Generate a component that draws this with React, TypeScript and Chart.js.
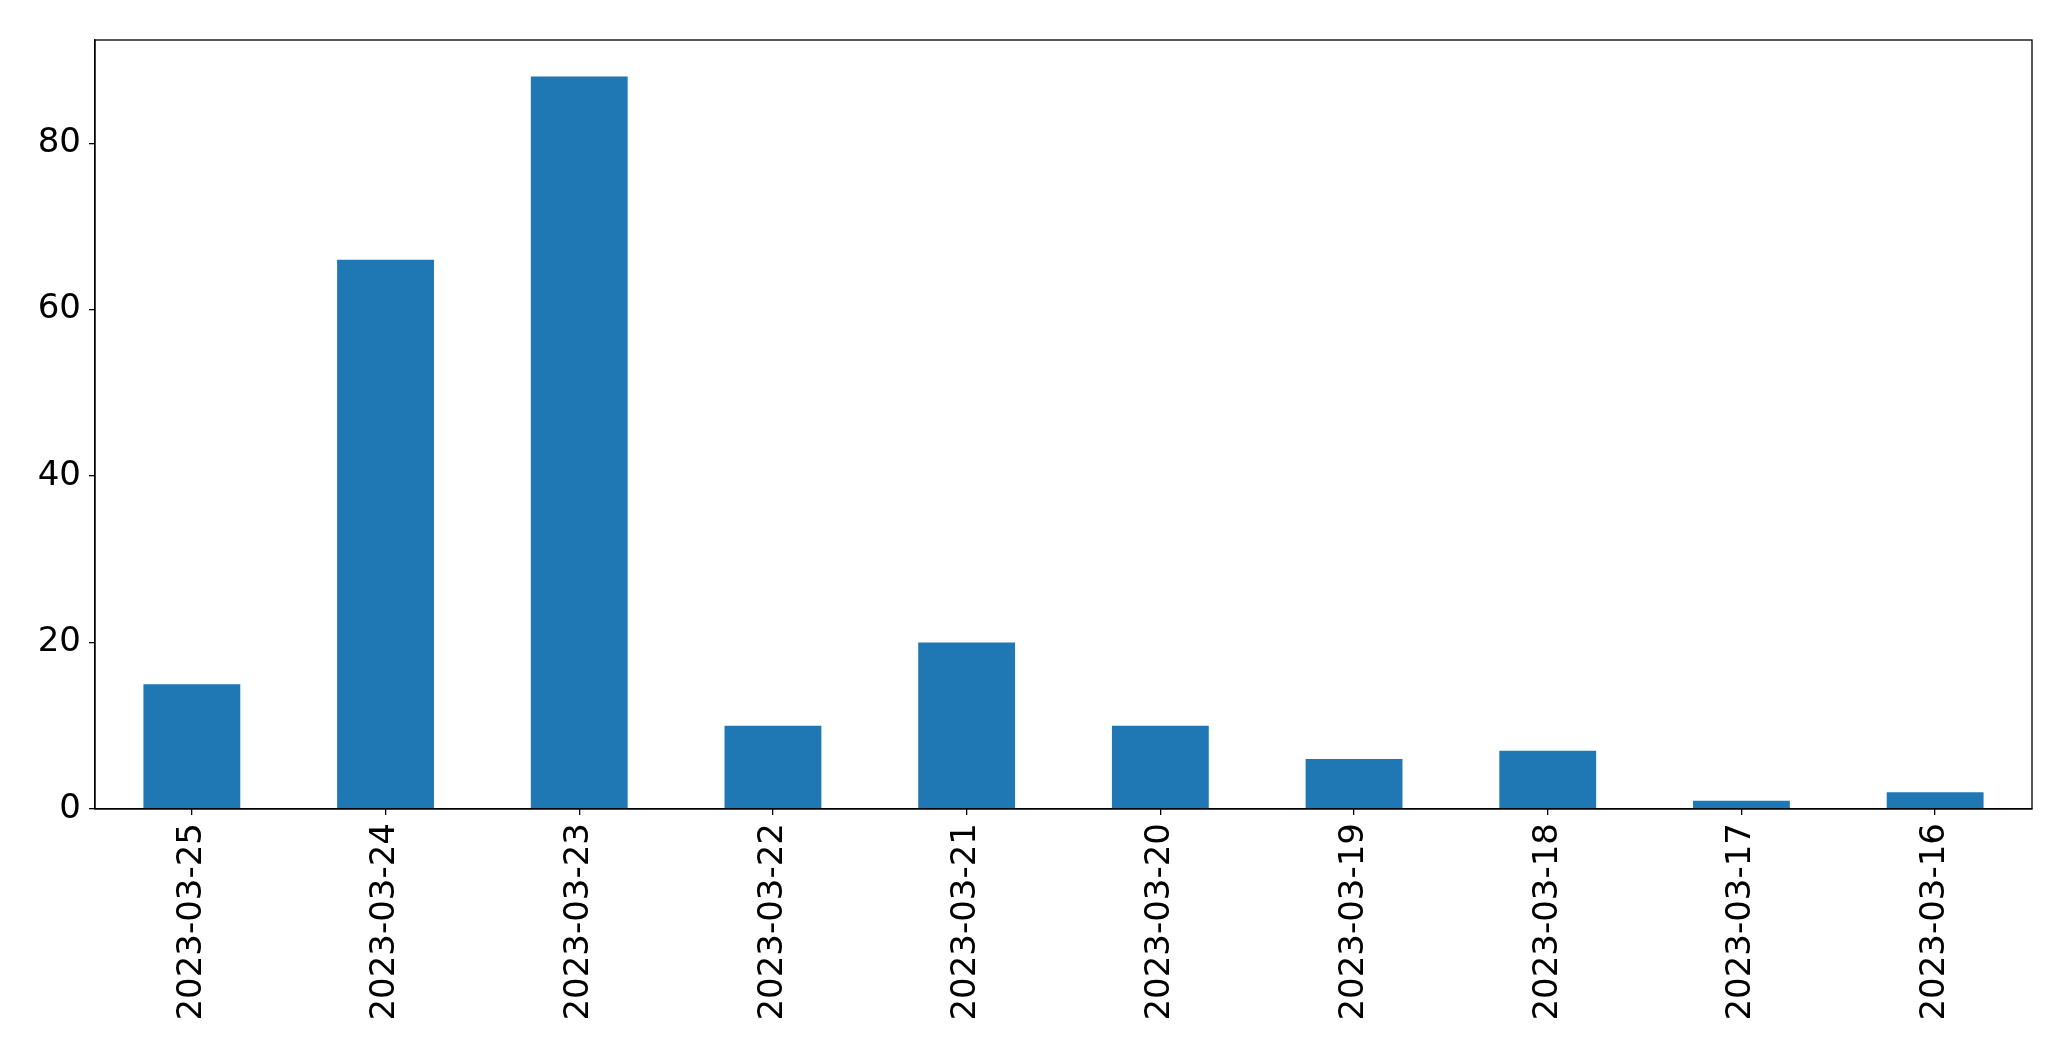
import React, { useEffect, useRef } from "react";
import { Chart, registerables } from "chart.js";

Chart.register(...registerables);

const categories = [
  "2023-03-25",
  "2023-03-24",
  "2023-03-23",
  "2023-03-22",
  "2023-03-21",
  "2023-03-20",
  "2023-03-19",
  "2023-03-18",
  "2023-03-17",
  "2023-03-16",
];
const values = [15, 66, 88, 10, 20, 10, 6, 7, 1, 2];
const yTicks = [0, 20, 40, 60, 80];

const W = 2071;
const H = 1061;

const frame = {
  id: "frame",
  afterDraw(chart: any) {
    const { ctx, chartArea } = chart;
    ctx.save();
    ctx.strokeStyle = "#000";
    ctx.lineWidth = 1.3;
    ctx.strokeRect(chartArea.left, chartArea.top, chartArea.right - chartArea.left, chartArea.bottom - chartArea.top);
    ctx.restore();
  },
};

export default function App() {
  const ref = useRef<HTMLCanvasElement>(null);
  useEffect(() => {
    if (!ref.current) return;
    const font = { family: "'DejaVu Sans', sans-serif", size: 34 };
    const chart = new Chart(ref.current, {
      type: "bar",
      data: {
        labels: categories,
        datasets: [
          {
            data: values,
            backgroundColor: "#1f77b4",
            categoryPercentage: 1,
            barPercentage: 0.5,
          },
        ],
      },
      options: {
        responsive: false,
        animation: false,
        layout: { padding: { top: 40, right: 39, left: 0, bottom: 0 } },
        plugins: { legend: { display: false }, tooltip: { enabled: false } },
        scales: {
          x: {
            grid: { offset: false, drawOnChartArea: false, drawTicks: true, tickLength: 6, color: "#000", lineWidth: 1.3 },
            border: { display: true, color: "#000", width: 1.3 },
            ticks: { font, color: "#000", maxRotation: 90, minRotation: 90, padding: 8, autoSkip: false },
            afterFit(scale: any) {
              scale.height = H - 809;
            },
          },
          y: {
            min: 0,
            max: 92.4,
            grid: { drawOnChartArea: false, drawTicks: true, tickLength: 6, color: "#000", lineWidth: 1.3 },
            border: { display: true, color: "#000", width: 1.3 },
            ticks: { font, color: "#000", stepSize: 20, padding: 8 },
            afterBuildTicks(scale: any) {
              scale.ticks = yTicks.map((v) => ({ value: v }));
            },
            afterFit(scale: any) {
              scale.width = 95;
            },
          },
        },
      },
      plugins: [frame],
    });
    return () => chart.destroy();
  }, []);
  return (
    <div style={{ position: "fixed", left: 0, top: 0, width: W, height: H, background: "#fff" }}>
      <canvas ref={ref} width={W} height={H} style={{ display: "block" }} />
    </div>
  );
}
